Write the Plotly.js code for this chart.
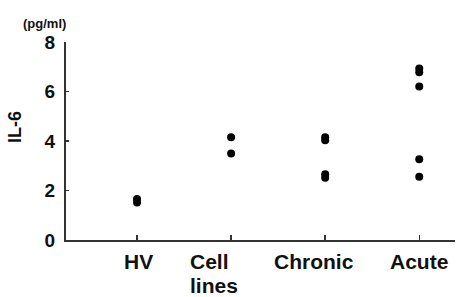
<!DOCTYPE html>
<html><head><meta charset="utf-8">
<script src="https://cdn.plot.ly/plotly-3.0.1.min.js"></script>
<style>html,body{margin:0;padding:0;background:#fff;}#chart{width:457px;height:297px;}</style>
</head><body><div id="chart"></div>
<script>
const categories = ["HV", "Cell<br>lines", "Chronic", "Acute"];
const hvValues = [1.52, 1.66];
const cellLineValues = [4.15, 3.5];
const chronicValues = [4.03, 4.15, 2.52, 2.66];
const acuteValues = [6.78, 6.93, 6.2, 3.26, 2.56];
const yTickVals = [0, 2, 4, 6, 8];

const groups = [hvValues, cellLineValues, chronicValues, acuteValues];
const xs = [], ys = [];
groups.forEach((vals, i) => vals.forEach(v => { xs.push(i + 1); ys.push(v); }));

const fam = "Liberation Sans, Arial, sans-serif";
// label placement (pixel offsets from tick, alignment)
const labelShift = [1, -42, -11, 0];
const labelAnchor = ["center", "left", "center", "center"];

const annotations = [];
categories.forEach((c, i) => {
  c.split("<br>").forEach((line, j) => {
    annotations.push({
      text: "<b>" + line + "</b>", xref: "x", yref: "paper", x: i + 1, y: 0,
      xanchor: labelAnchor[i], yanchor: "top", xshift: labelShift[i], yshift: -9 - 24 * j,
      showarrow: false, borderpad: 0, font: {size: 21, family: fam, color: "#111"}
    });
  });
});
annotations.push({
  text: "<b>IL-6</b>", xref: "paper", yref: "y", x: 0, y: 4.57, xshift: -51,
  xanchor: "center", yanchor: "middle", textangle: -90, showarrow: false, borderpad: 0,
  font: {size: 18, family: fam, color: "#111"}
});
annotations.push({
  text: "<b>(pg/ml)</b>", xref: "paper", yref: "paper", x: 0, y: 1, xshift: -22, yshift: 19,
  xanchor: "center", yanchor: "middle", showarrow: false, borderpad: 0,
  font: {size: 13, family: fam, color: "#111"}
});

Plotly.newPlot("chart", [{
  type: "scatter", mode: "markers", x: xs, y: ys,
  marker: {color: "#000", size: 8}, hoverinfo: "skip", cliponaxis: false
}], {
  width: 457, height: 297,
  margin: {l: 66, r: 2, t: 42, b: 57},
  paper_bgcolor: "#fff", plot_bgcolor: "#fff",
  showlegend: false,
  font: {family: fam, color: "#111"},
  xaxis: {
    range: [0.245, 4.38], tickvals: [1, 2, 3, 4], showticklabels: false,
    showline: true, linecolor: "#333", linewidth: 2, showgrid: false, zeroline: false,
    ticks: "inside", ticklen: 5, tickwidth: 1.5, tickcolor: "#333"
  },
  yaxis: {
    range: [0, 8], tickvals: yTickVals, ticktext: yTickVals.map(v => "<b>" + v + "</b>"),
    showline: true, linecolor: "#333", linewidth: 2, showgrid: false, zeroline: false,
    ticks: "inside", ticklen: 3, tickwidth: 1.5, tickcolor: "#333",
    ticklabelstandoff: 5,
    tickfont: {size: 19, family: fam, color: "#111"}
  },
  annotations: annotations
}, {displayModeBar: false, staticPlot: true});
</script></body></html>
